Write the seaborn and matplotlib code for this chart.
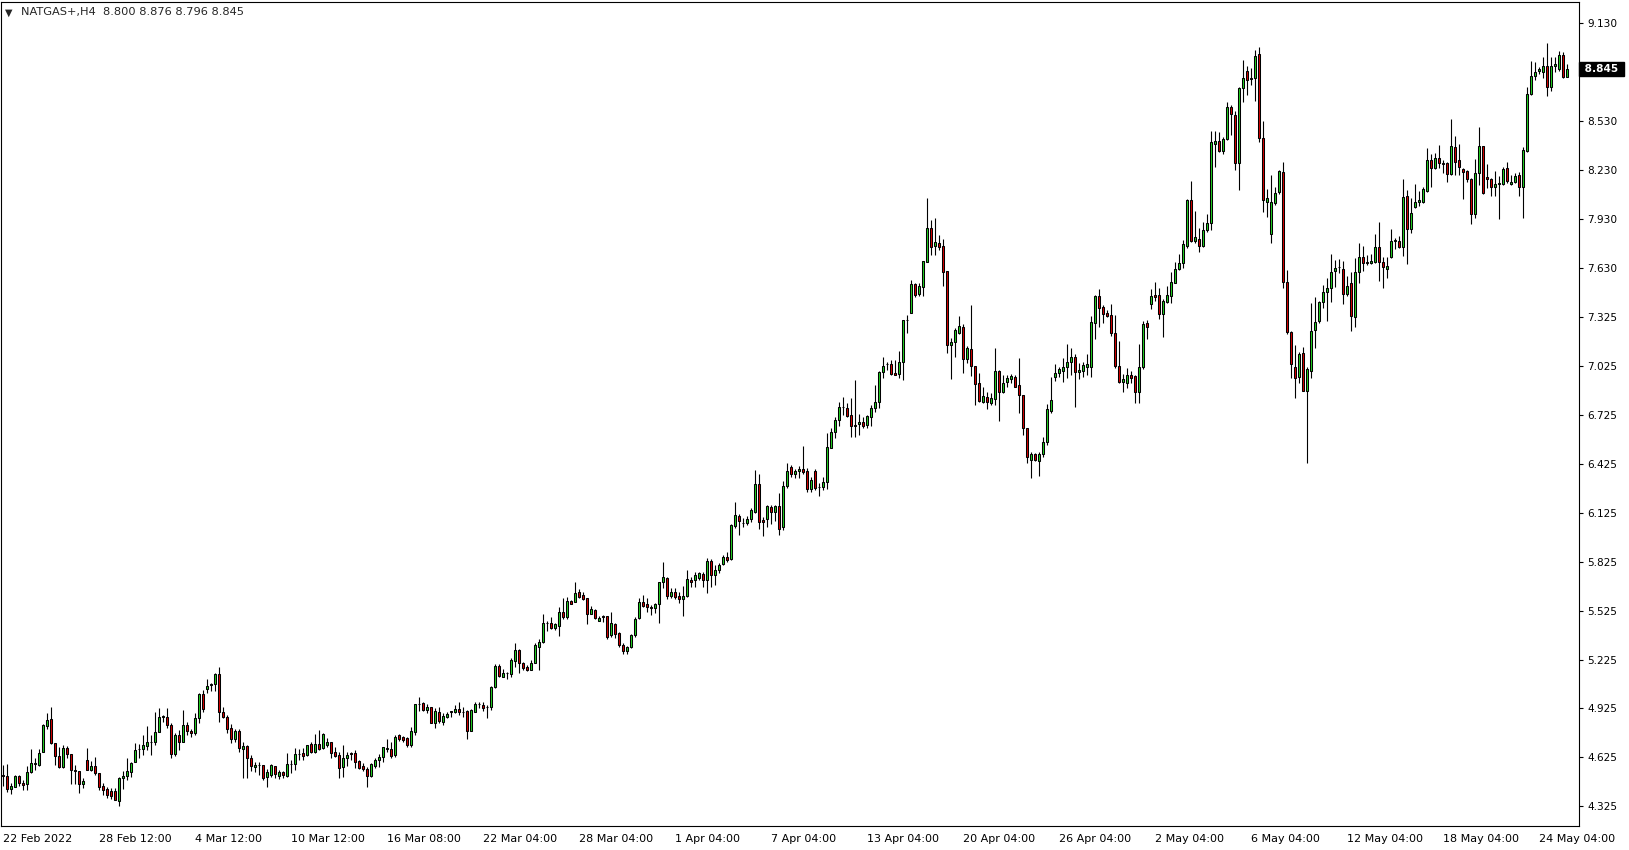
import numpy as np
import pandas as pd
import seaborn as sns
import matplotlib
matplotlib.use('Agg')
import matplotlib.pyplot as plt

# H4 candles
o = [4.52, 4.511, 4.43, 4.446, 4.511, 4.466, 4.46, 4.538, 4.585, 4.58,
     4.656, 4.82, 4.859, 4.716, 4.636, 4.568, 4.681, 4.644, 4.546, 4.542,
     4.465, 4.609, 4.55, 4.572, 4.532, 4.452, 4.43, 4.417, 4.42, 4.358,
     4.50, 4.51, 4.538, 4.595, 4.675, 4.675, 4.697, 4.718, 4.718, 4.783,
     4.871, 4.871, 4.824, 4.644, 4.763, 4.722, 4.824, 4.79, 4.773, 4.865,
     5.014, 5.043, 5.067, 5.073, 5.137, 4.906, 4.875, 4.804, 4.738, 4.79,
     4.68, 4.697, 4.624, 4.564, 4.58, 4.579, 4.503, 4.518, 4.572, 4.513,
     4.534, 4.513, 4.583, 4.583, 4.644, 4.654, 4.64, 4.705, 4.66, 4.708,
     4.685, 4.70, 4.718, 4.656, 4.64, 4.568, 4.624, 4.654, 4.65, 4.603,
     4.572, 4.554, 4.513, 4.575, 4.61, 4.626, 4.675, 4.675, 4.64, 4.761,
     4.753, 4.747, 4.70, 4.783, 4.953, 4.961, 4.916, 4.932, 4.834, 4.902,
     4.844, 4.875, 4.91, 4.906, 4.922, 4.906, 4.912, 4.789, 4.906, 4.953,
     4.947, 4.937, 4.932, 5.059, 5.186, 5.12, 5.145, 5.14, 5.219, 5.284,
     5.206, 5.182, 5.161, 5.206, 5.305, 5.335, 5.448, 5.448, 5.421, 5.433,
     5.515, 5.484, 5.585, 5.576, 5.638, 5.621, 5.601, 5.505, 5.529, 5.464,
     5.492, 5.492, 5.376, 5.444, 5.386, 5.315, 5.28, 5.305, 5.376, 5.478,
     5.577, 5.564, 5.55, 5.54, 5.564, 5.699, 5.724, 5.617, 5.638, 5.615,
     5.595, 5.615, 5.714, 5.714, 5.724, 5.75, 5.714, 5.832, 5.742, 5.775,
     5.81, 5.856, 5.84, 6.047, 6.108, 6.065, 6.061, 6.088, 6.133, 6.302,
     6.081, 6.088, 6.159, 6.128, 6.167, 6.04, 6.29, 6.405, 6.364, 6.384,
     6.394, 6.382, 6.272, 6.382, 6.286, 6.286, 6.316, 6.525, 6.619, 6.695,
     6.772, 6.766, 6.725, 6.664, 6.668, 6.684, 6.664, 6.711, 6.766, 6.803,
     6.987, 7.036, 7.036, 6.981, 6.975, 7.048, 7.308, 7.353, 7.527, 7.465,
     7.512, 7.662, 7.87, 7.762, 7.778, 7.762, 7.608, 7.155, 7.171, 7.23,
     7.267, 7.067, 7.128, 7.026, 6.92, 6.807, 6.838, 6.801, 6.822, 6.995,
     6.864, 6.93, 6.944, 6.956, 6.909, 6.848, 6.643, 6.449, 6.484, 6.445,
     6.486, 6.56, 6.75, 6.956, 6.981, 6.997, 7.018, 7.048, 7.083, 6.987,
     6.995, 7.022, 7.022, 7.292, 7.455, 7.386, 7.349, 7.339, 7.226, 7.026,
     6.93, 6.924, 6.97, 6.964, 6.864, 7.018, 7.288, 7.404, 7.461, 7.461,
     7.343, 7.42, 7.457, 7.533, 7.619, 7.656, 7.764, 8.044, 7.795, 7.805,
     7.764, 7.86, 7.901, 8.39, 8.406, 8.347, 8.416, 8.616, 8.565, 8.269,
     8.729, 8.835, 8.784, 8.79, 8.937, 8.426, 8.034, 7.833, 8.024, 8.095,
     8.218, 7.539, 7.237, 7.018, 6.961, 7.104, 6.875, 6.997, 7.247, 7.304,
     7.416, 7.478, 7.502, 7.611, 7.63, 7.619, 7.465, 7.533, 7.329, 7.6,
     7.696, 7.662, 7.656, 7.666, 7.758, 7.662, 7.619, 7.692, 7.795, 7.795,
     7.754, 8.07, 7.864, 7.999, 8.03, 8.033, 8.101, 8.289, 8.238, 8.3,
     8.273, 8.273, 8.201, 8.367, 8.289, 8.232, 8.222, 8.173, 7.956, 8.208,
     8.375, 8.183, 8.171, 8.126, 8.14, 8.14, 8.238, 8.14, 8.156, 8.197,
     8.122, 8.347, 8.692, 8.806, 8.837, 8.827, 8.866, 8.739, 8.866, 8.845,
     8.933, 8.800]
h = [4.58, 4.585, 4.466, 4.517, 4.52, 4.487, 4.575, 4.677, 4.62, 4.675,
     4.828, 4.90, 4.932, 4.716, 4.69, 4.70, 4.697, 4.644, 4.579, 4.542,
     4.497, 4.681, 4.605, 4.63, 4.532, 4.466, 4.446, 4.436, 4.436, 4.507,
     4.54, 4.624, 4.599, 4.712, 4.706, 4.763, 4.82, 4.763, 4.902, 4.926,
     4.885, 4.926, 4.834, 4.773, 4.794, 4.916, 4.845, 4.80, 4.896, 5.018,
     5.039, 5.106, 5.08, 5.141, 5.178, 4.937, 4.885, 4.828, 4.80, 4.80,
     4.718, 4.70, 4.64, 4.599, 4.599, 4.579, 4.554, 4.583, 4.572, 4.548,
     4.542, 4.65, 4.61, 4.681, 4.675, 4.681, 4.70, 4.718, 4.767, 4.793,
     4.773, 4.746, 4.718, 4.69, 4.66, 4.70, 4.66, 4.66, 4.67, 4.61,
     4.589, 4.568, 4.589, 4.624, 4.644, 4.69, 4.736, 4.722, 4.763, 4.767,
     4.757, 4.753, 4.814, 4.953, 4.998, 4.967, 4.953, 4.932, 4.926, 4.937,
     4.896, 4.906, 4.91, 4.947, 4.967, 4.937, 4.916, 4.92, 4.967, 4.967,
     4.967, 4.947, 5.063, 5.196, 5.196, 5.165, 5.151, 5.233, 5.329, 5.288,
     5.212, 5.192, 5.223, 5.325, 5.35, 5.503, 5.462, 5.484, 5.452, 5.546,
     5.605, 5.611, 5.591, 5.699, 5.656, 5.638, 5.605, 5.556, 5.535, 5.494,
     5.499, 5.494, 5.515, 5.448, 5.392, 5.325, 5.31, 5.38, 5.488, 5.605,
     5.621, 5.601, 5.56, 5.57, 5.701, 5.822, 5.734, 5.662, 5.666, 5.642,
     5.677, 5.775, 5.734, 5.765, 5.765, 5.765, 5.846, 5.842, 5.805, 5.815,
     5.867, 5.887, 6.057, 6.194, 6.118, 6.092, 6.106, 6.153, 6.388, 6.364,
     6.098, 6.173, 6.173, 6.173, 6.245, 6.32, 6.433, 6.419, 6.392, 6.413,
     6.535, 6.398, 6.347, 6.394, 6.306, 6.347, 6.613, 6.648, 6.715, 6.803,
     6.836, 6.797, 6.828, 6.94, 6.73, 6.711, 6.725, 6.787, 6.909, 6.995,
     7.083, 7.052, 7.063, 7.063, 7.118, 7.308, 7.339, 7.553, 7.533, 7.537,
     7.67, 8.054, 7.921, 7.931, 7.829, 7.803, 7.608, 7.2, 7.257, 7.333,
     7.281, 7.149, 7.4, 7.026, 6.985, 6.895, 6.868, 6.858, 7.138, 7.001,
     6.971, 6.971, 6.977, 6.971, 7.073, 6.848, 6.643, 6.5, 6.49, 6.5,
     6.593, 6.79, 6.96, 7.038, 7.022, 7.073, 7.161, 7.134, 7.1, 7.042,
     7.052, 7.1, 7.333, 7.461, 7.498, 7.4, 7.37, 7.406, 7.339, 7.179,
     6.977, 7.012, 6.995, 6.97, 7.161, 7.302, 7.308, 7.498, 7.543, 7.506,
     7.437, 7.516, 7.604, 7.666, 7.711, 7.799, 8.05, 8.163, 7.976, 7.87,
     7.911, 7.958, 8.467, 8.467, 8.463, 8.432, 8.647, 8.627, 8.59, 8.739,
     8.902, 8.866, 8.855, 8.964, 8.98, 8.528, 8.111, 8.2, 8.126, 8.228,
     8.279, 7.615, 7.241, 7.155, 7.114, 7.145, 7.022, 7.414, 7.451, 7.426,
     7.522, 7.567, 7.713, 7.676, 7.682, 7.67, 7.578, 7.6, 7.686, 7.778,
     7.762, 7.707, 7.713, 7.833, 7.907, 7.696, 7.696, 7.864, 7.809, 7.823,
     8.171, 8.105, 8.054, 8.142, 8.099, 8.122, 8.361, 8.324, 8.33, 8.381,
     8.289, 8.279, 8.541, 8.437, 8.387, 8.242, 8.228, 8.177, 8.296, 8.494,
     8.375, 8.265, 8.177, 8.222, 8.19, 8.248, 8.275, 8.197, 8.207, 8.214,
     8.367, 8.735, 8.896, 8.892, 8.857, 8.919, 9.005, 8.919, 8.923, 8.958,
     8.954, 8.876]
l = [4.45, 4.415, 4.399, 4.442, 4.452, 4.425, 4.425, 4.528, 4.55, 4.575,
     4.656, 4.80, 4.706, 4.579, 4.558, 4.558, 4.62, 4.46, 4.46, 4.409,
     4.436, 4.546, 4.542, 4.52, 4.425, 4.395, 4.374, 4.37, 4.364, 4.33,
     4.43, 4.485, 4.507, 4.595, 4.62, 4.64, 4.67, 4.64, 4.70, 4.779,
     4.84, 4.804, 4.62, 4.634, 4.671, 4.722, 4.763, 4.753, 4.763, 4.834,
     4.902, 5.022, 5.03, 5.03, 4.845, 4.865, 4.773, 4.712, 4.718, 4.66,
     4.501, 4.501, 4.542, 4.538, 4.52, 4.487, 4.442, 4.507, 4.497, 4.491,
     4.497, 4.507, 4.53, 4.548, 4.61, 4.61, 4.636, 4.65, 4.65, 4.671,
     4.677, 4.687, 4.624, 4.63, 4.501, 4.507, 4.575, 4.61, 4.562, 4.552,
     4.542, 4.446, 4.507, 4.558, 4.568, 4.60, 4.66, 4.624, 4.63, 4.726,
     4.722, 4.687, 4.691, 4.763, 4.91, 4.91, 4.90, 4.834, 4.804, 4.834,
     4.824, 4.865, 4.875, 4.896, 4.885, 4.875, 4.74, 4.789, 4.902, 4.926,
     4.91, 4.87, 4.916, 5.049, 5.12, 5.12, 5.104, 5.116, 5.178, 5.141,
     5.161, 5.155, 5.161, 5.202, 5.161, 5.325, 5.40, 5.413, 5.407, 5.372,
     5.474, 5.474, 5.564, 5.576, 5.601, 5.591, 5.441, 5.503, 5.474, 5.462,
     5.454, 5.35, 5.366, 5.356, 5.305, 5.26, 5.26, 5.298, 5.366, 5.474,
     5.546, 5.519, 5.50, 5.509, 5.452, 5.662, 5.597, 5.601, 5.595, 5.57,
     5.495, 5.611, 5.672, 5.669, 5.714, 5.672, 5.636, 5.669, 5.683, 5.754,
     5.805, 5.826, 5.836, 6.03, 5.99, 6.04, 6.051, 6.071, 6.122, 6.024,
     5.983, 6.04, 6.057, 6.077, 5.99, 6.02, 6.276, 6.347, 6.341, 6.337,
     6.362, 6.251, 6.251, 6.265, 6.231, 6.265, 6.27, 6.521, 6.582, 6.66,
     6.725, 6.711, 6.588, 6.593, 6.603, 6.644, 6.644, 6.66, 6.746, 6.77,
     6.95, 7.001, 6.971, 6.971, 6.95, 6.94, 7.226, 7.353, 7.451, 7.455,
     7.455, 7.662, 7.707, 7.707, 7.737, 7.518, 7.108, 6.944, 7.083, 7.222,
     6.985, 7.042, 6.965, 6.787, 6.807, 6.797, 6.76, 6.787, 6.787, 6.691,
     6.858, 6.899, 6.924, 6.895, 6.74, 6.603, 6.429, 6.337, 6.443, 6.351,
     6.47, 6.54, 6.74, 6.936, 6.96, 6.93, 6.95, 6.97, 6.777, 6.946,
     6.96, 6.97, 6.96, 7.19, 7.263, 7.288, 7.329, 7.212, 7.016, 6.92,
     6.868, 6.889, 6.924, 6.797, 6.797, 7.005, 7.19, 7.373, 7.426, 7.312,
     7.206, 7.414, 7.414, 7.533, 7.615, 7.625, 7.752, 7.784, 7.778, 7.723,
     7.758, 7.85, 7.86, 8.248, 8.336, 8.326, 8.412, 8.443, 8.228, 8.105,
     8.647, 8.688, 8.749, 8.653, 8.398, 7.972, 7.942, 7.78, 8.013, 8.079,
     7.506, 7.22, 6.954, 6.832, 6.924, 6.875, 6.429, 6.95, 7.134, 7.288,
     7.379, 7.304, 7.42, 7.512, 7.598, 7.404, 7.457, 7.243, 7.263, 7.533,
     7.61, 7.645, 7.651, 7.655, 7.549, 7.506, 7.568, 7.686, 7.741, 7.752,
     7.703, 7.652, 7.839, 7.997, 8.007, 8.023, 8.095, 8.126, 8.232, 8.242,
     8.207, 8.156, 8.197, 8.197, 8.197, 8.048, 8.156, 7.895, 7.931, 8.136,
     8.079, 8.116, 8.071, 8.071, 7.925, 8.136, 8.146, 8.136, 8.15, 8.069,
     7.935, 8.341, 8.688, 8.78, 8.817, 8.794, 8.684, 8.715, 8.827, 8.835,
     8.79, 8.796]
c = [4.51, 4.430, 4.45, 4.511, 4.466, 4.458, 4.538, 4.589, 4.59, 4.65,
     4.824, 4.855, 4.716, 4.636, 4.566, 4.681, 4.644, 4.546, 4.542, 4.46,
     4.48, 4.546, 4.572, 4.532, 4.446, 4.425, 4.395, 4.391, 4.364, 4.497,
     4.51, 4.542, 4.589, 4.671, 4.675, 4.70, 4.718, 4.718, 4.779, 4.871,
     4.879, 4.824, 4.644, 4.763, 4.722, 4.824, 4.79, 4.777, 4.865, 5.014,
     4.92, 5.063, 5.075, 5.137, 4.906, 4.875, 4.797, 4.738, 4.787, 4.681,
     4.697, 4.624, 4.572, 4.58, 4.578, 4.497, 4.534, 4.579, 4.521, 4.534,
     4.517, 4.583, 4.583, 4.644, 4.645, 4.636, 4.70, 4.66, 4.705, 4.677,
     4.769, 4.718, 4.65, 4.636, 4.562, 4.624, 4.64, 4.644, 4.60, 4.562,
     4.552, 4.513, 4.583, 4.61, 4.63, 4.687, 4.685, 4.636, 4.753, 4.74,
     4.732, 4.70, 4.787, 4.953, 4.951, 4.916, 4.932, 4.834, 4.91, 4.848,
     4.879, 4.891, 4.904, 4.922, 4.902, 4.904, 4.789, 4.916, 4.953, 4.955,
     4.93, 4.935, 5.059, 5.186, 5.126, 5.145, 5.145, 5.223, 5.284, 5.202,
     5.172, 5.161, 5.206, 5.315, 5.335, 5.448, 5.448, 5.417, 5.444, 5.515,
     5.484, 5.585, 5.568, 5.632, 5.611, 5.597, 5.503, 5.535, 5.478, 5.482,
     5.484, 5.366, 5.448, 5.382, 5.315, 5.28, 5.30, 5.376, 5.474, 5.577,
     5.556, 5.55, 5.54, 5.566, 5.699, 5.732, 5.617, 5.638, 5.611, 5.595,
     5.615, 5.72, 5.699, 5.744, 5.754, 5.714, 5.832, 5.742, 5.775, 5.805,
     5.856, 5.836, 6.051, 6.112, 6.077, 6.065, 6.088, 6.143, 6.302, 6.071,
     6.071, 6.167, 6.128, 6.167, 6.024, 6.29, 6.382, 6.362, 6.384, 6.394,
     6.378, 6.27, 6.327, 6.276, 6.286, 6.312, 6.527, 6.619, 6.695, 6.772,
     6.772, 6.721, 6.66, 6.656, 6.68, 6.656, 6.719, 6.766, 6.803, 6.987,
     7.028, 7.036, 6.975, 6.971, 7.048, 7.308, 7.308, 7.527, 7.461, 7.518,
     7.67, 7.87, 7.754, 7.784, 7.754, 7.60, 7.155, 7.171, 7.247, 7.271,
     7.067, 7.134, 7.028, 6.914, 6.813, 6.842, 6.803, 6.832, 6.995, 6.864,
     6.924, 6.95, 6.966, 6.899, 6.848, 6.643, 6.47, 6.484, 6.449, 6.486,
     6.56, 6.76, 6.817, 6.985, 7.007, 7.018, 7.048, 7.079, 6.991, 7.001,
     7.032, 7.038, 7.294, 7.455, 7.384, 7.343, 7.333, 7.226, 7.028, 6.93,
     6.946, 6.97, 6.954, 6.864, 7.018, 7.283, 7.267, 7.455, 7.447, 7.343,
     7.425, 7.461, 7.539, 7.619, 7.656, 7.772, 8.044, 7.795, 7.815, 7.764,
     7.86, 7.901, 8.398, 8.406, 8.345, 8.418, 8.616, 8.57, 8.269, 8.733,
     8.79, 8.78, 8.794, 8.929, 8.426, 8.044, 8.054, 8.03, 8.085, 8.222,
     7.543, 7.237, 7.036, 6.951, 7.1, 6.875, 7.005, 7.243, 7.294, 7.416,
     7.478, 7.502, 7.604, 7.625, 7.631, 7.465, 7.518, 7.335, 7.604, 7.696,
     7.655, 7.66, 7.67, 7.758, 7.662, 7.631, 7.639, 7.795, 7.795, 7.758,
     8.064, 7.864, 7.966, 8.03, 8.044, 8.111, 8.289, 8.238, 8.304, 8.269,
     8.263, 8.201, 8.375, 8.279, 8.249, 8.218, 8.171, 7.956, 8.208, 8.375,
     8.085, 8.171, 8.126, 8.142, 8.15, 8.232, 8.163, 8.152, 8.193, 8.122,
     8.351, 8.694, 8.804, 8.827, 8.845, 8.866, 8.735, 8.866, 8.876, 8.933,
     8.8, 8.845]

date_labels = ['22 Feb 2022', '28 Feb 12:00', '4 Mar 12:00', '10 Mar 12:00',
               '16 Mar 08:00', '22 Mar 04:00', '28 Mar 04:00', '1 Apr 04:00',
               '7 Apr 04:00', '13 Apr 04:00', '20 Apr 04:00', '26 Apr 04:00',
               '2 May 04:00', '6 May 04:00', '12 May 04:00', '18 May 04:00',
               '24 May 04:00']
price_labels = ['4.325', '4.625', '4.925', '5.225', '5.525', '5.825', '6.125',
                '6.425', '6.725', '7.025', '7.325', '7.630', '7.930', '8.230',
                '8.530', '8.830', '9.130']

df = pd.DataFrame({'open': o, 'high': h, 'low': l, 'close': c})
df['bar'] = np.arange(len(df))
df['up'] = df['close'] >= df['open']
df['body_lo'] = df[['open', 'close']].min(axis=1)
df['body_h'] = (df['close'] - df['open']).abs().clip(lower=0.0005)

sns.set_style('white')
plt.rcParams['font.family'] = ['DejaVu Sans']

W, H = 1629, 850
fig = plt.figure(figsize=(W / 100, H / 100), dpi=100)
ax = fig.add_axes([1 / W, 24 / H, 1578 / W, 824 / H])

ax.vlines(df['bar'], df['low'], df['high'], color='black', lw=0.8, zorder=2)
ax.bar(df['bar'], df['body_h'], bottom=df['body_lo'], width=0.55,
       color=np.where(df['up'], '#22d022', '#d40000'),
       edgecolor='black', linewidth=0.75, zorder=3)

ax.set_xlim(-0.42, 393.9)
ax.set_ylim(4.205, 9.258)

ax.yaxis.tick_right()
ticks = np.linspace(4.325, 9.130, len(price_labels))
ax.set_yticks(ticks)
ax.set_yticklabels(price_labels)
ax.set_xticks(np.arange(len(date_labels)) * 24)
ax.set_xticklabels(date_labels, ha='left')
ax.tick_params(axis='both', direction='out', length=3, width=0.8,
               color='black', labelcolor='black')
ax.tick_params(axis='y', labelsize=7.6, pad=3)
ax.tick_params(axis='x', labelsize=8, pad=2.5)
for s in ax.spines.values():
    s.set_visible(True)
    s.set_color('black')
    s.set_linewidth(0.8)

# the price tag hides the scale label under it
for t, lab in zip(ticks, ax.get_yticklabels()):
    if abs(t - c[-1]) < 0.06:
        lab.set_visible(False)

ax.text(1.0015, c[-1], f' {c[-1]:.3f} ', transform=ax.get_yaxis_transform(),
        ha='left', va='center', fontsize=7.6, fontweight='bold',
        color='white', zorder=10, clip_on=False,
        bbox=dict(boxstyle='square,pad=0.2', fc='black', ec='black'))

fig.text(5 / W, 1 - 12.5 / H, '\u25bc', fontsize=7, va='center', ha='left')
fig.text(21 / W, 1 - 12.5 / H, 'NATGAS+,H4  8.800 8.876 8.796 8.845',
         fontsize=8.2, va='center', ha='left')

fig.savefig('out.png', dpi=100)
